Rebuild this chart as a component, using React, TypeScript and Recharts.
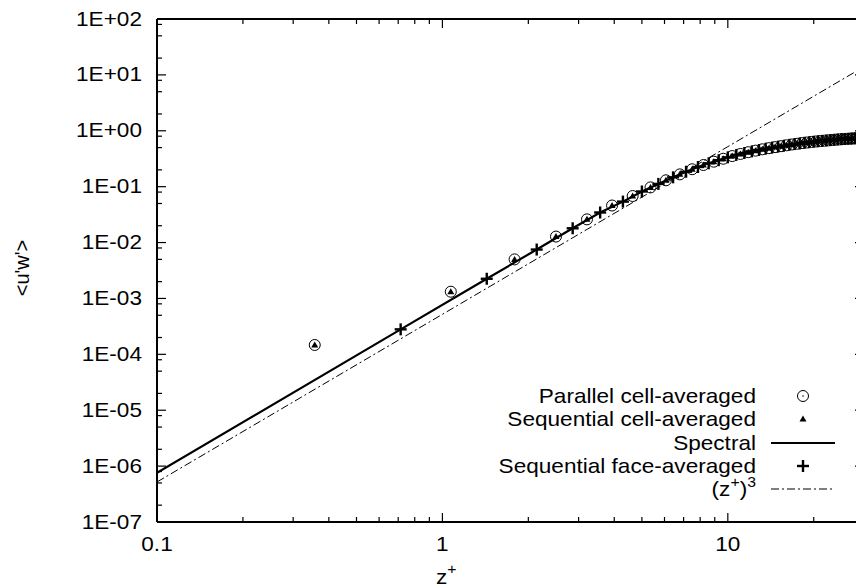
import { ComposedChart, Line, Scatter, XAxis, YAxis, ReferenceLine } from 'recharts';

const W = 890;
const H = 588;
const PLOT_TOP = 19;
const PLOT_RIGHT = 864;
const FONT = '"Liberation Sans", Arial, Helvetica, sans-serif';
const SX = 1.13; // the reference text is a little wider than plain Arial

// axis ticks
const xMajor = [0.1, 1, 10];
const xMinor = [0.2, 0.3, 0.4, 0.5, 0.6, 0.7, 0.8, 0.9, 2, 3, 4, 5, 6, 7, 8, 9, 20, 30];
const yMajor = [1e-7, 1e-6, 1e-5, 1e-4, 1e-3, 1e-2, 1e-1, 1, 10, 100];
const yMinor = [
  2e-7, 5e-7, 8e-7, 2e-6, 5e-6, 8e-6, 2e-5, 5e-5, 8e-5, 2e-4, 5e-4, 8e-4,
  2e-3, 5e-3, 8e-3, 2e-2, 5e-2, 8e-2, 0.2, 0.5, 0.8, 2, 5, 8, 20, 50, 80,
];

// Spectral solution
const spectralZ = [
  0.1, 0.714, 1.43, 2.14, 2.86, 3.57, 4.29, 5.0, 5.71, 6.43, 7.14, 7.86, 8.57, 9.29, 10.0,
  10.71, 11.43, 12.14, 12.86, 13.57, 14.29, 15.0, 15.71, 16.43, 17.14, 17.86, 18.57, 19.29,
  20.0, 20.71, 21.43, 22.14, 22.86, 23.57, 24.29, 25.0, 25.71, 26.43, 27.14, 27.86, 28.57,
  29.29, 30.0,
];
const spectralUW = [
  7.6e-7, 2.8e-4, 2.25e-3, 7.5e-3, 1.8e-2, 3.45e-2, 0.054, 0.082, 0.112, 0.147, 0.185, 0.225,
  0.262, 0.298, 0.335, 0.37, 0.4, 0.428, 0.453, 0.478, 0.5, 0.52, 0.54, 0.56, 0.578, 0.594,
  0.61, 0.624, 0.637, 0.649, 0.66, 0.67, 0.68, 0.69, 0.699, 0.707, 0.714, 0.72, 0.726, 0.732,
  0.737, 0.742, 0.746,
];

// Sequential face-averaged (+)
const faceZ = [
  0.714, 1.43, 2.14, 2.86, 3.57, 4.29, 5.0, 5.71, 6.43, 7.14, 7.86, 8.57, 9.29, 10.0, 10.71,
  11.43, 12.14, 12.86, 13.57, 14.29, 15.0, 15.71, 16.43, 17.14, 17.86, 18.57, 19.29, 20.0,
  20.71, 21.43, 22.14, 22.86, 23.57, 24.29, 25.0, 25.71, 26.43, 27.14, 27.86, 28.57, 29.29,
];
const faceUW = [
  2.8e-4, 2.25e-3, 7.5e-3, 1.8e-2, 3.45e-2, 0.054, 0.082, 0.112, 0.147, 0.185, 0.225, 0.262,
  0.298, 0.335, 0.37, 0.4, 0.428, 0.453, 0.478, 0.5, 0.52, 0.54, 0.56, 0.578, 0.594, 0.61,
  0.624, 0.637, 0.649, 0.66, 0.67, 0.68, 0.69, 0.699, 0.707, 0.714, 0.72, 0.726, 0.732, 0.737,
  0.742,
];

// Parallel / sequential cell-averaged (cell centres)
const cellZ = [
  0.357, 1.07, 1.79, 2.5, 3.21, 3.93, 4.64, 5.36, 6.07, 6.79, 7.5, 8.21, 8.93, 9.64, 10.36,
  11.07, 11.79, 12.5, 13.21, 13.93, 14.64, 15.36, 16.07, 16.79, 17.5, 18.21, 18.93, 19.64,
  20.36, 21.07, 21.79, 22.5, 23.21, 23.93, 24.64, 25.36, 26.07, 26.79, 27.5, 28.21, 28.93,
  29.64,
];
const parallelUW = [
  1.47e-4, 1.32e-3, 5.0e-3, 1.28e-2, 2.6e-2, 4.6e-2, 0.068, 0.097, 0.13, 0.166, 0.205, 0.244,
  0.28, 0.316, 0.353, 0.385, 0.414, 0.441, 0.466, 0.489, 0.51, 0.53, 0.55, 0.569, 0.586,
  0.602, 0.617, 0.631, 0.643, 0.655, 0.665, 0.675, 0.685, 0.694, 0.703, 0.71, 0.717, 0.723,
  0.729, 0.734, 0.739, 0.744,
];
const sequentialUW = parallelUW;

// (z+)^3 reference slope
const cubeZ = [0.1, 1, 10, 30];
const cubeUW = [5.2e-7, 5.2e-4, 0.52, 14];

const zip = (xs: number[], ys: number[]) => xs.map((x, i) => ({ x, y: ys[i] }));
const spectralData = zip(spectralZ, spectralUW);
const faceData = zip(faceZ, faceUW);
const parallelData = zip(cellZ, parallelUW);
const sequentialData = zip(cellZ, sequentialUW);
const cubeData = zip(cubeZ, cubeUW);

const isMajor = (v: number) => Math.abs(Math.log10(v) - Math.round(Math.log10(v))) < 1e-6;
const fmtE = (v: number) => {
  const e = Math.round(Math.log10(v));
  return `1E${e < 0 ? '-' : '+'}${String(Math.abs(e)).padStart(2, '0')}`;
};

// text stretched horizontally around its anchor point
function SText({ x, y, children, ...rest }: any) {
  return (
    <text transform={`translate(${x} ${y}) scale(${SX} 1)`} x={0} y={0}
      fontFamily={FONT} fontSize={20} fill="#000" {...rest}>{children}</text>
  );
}

function XTick({ x, y, payload }: any) {
  const v = payload.value;
  const len = isMajor(v) ? 9 : 5;
  return (
    <g>
      <line x1={x} y1={y} x2={x} y2={y - len} stroke="#000" strokeWidth={1.2} />
      <line x1={x} y1={PLOT_TOP} x2={x} y2={PLOT_TOP + len} stroke="#000" strokeWidth={1.2} />
      {isMajor(v) && (
        <SText x={x} y={y + 22} textAnchor="middle" dominantBaseline="central">{String(v)}</SText>
      )}
    </g>
  );
}

function YTick({ x, y, payload }: any) {
  const v = payload.value;
  const len = isMajor(v) ? 9 : 5;
  return (
    <g>
      <line x1={x} y1={y} x2={x + len} y2={y} stroke="#000" strokeWidth={1.2} />
      <line x1={PLOT_RIGHT} y1={y} x2={PLOT_RIGHT - len} y2={y} stroke="#000" strokeWidth={1.2} />
      {isMajor(v) && (
        <SText x={x - 15} y={y} textAnchor="end" dominantBaseline="central">{fmtE(v)}</SText>
      )}
    </g>
  );
}

const circleShape = (p: any) => (
  <g>
    <circle cx={p.cx} cy={p.cy} r={5.5} fill="none" stroke="#000" strokeWidth={1} />
    <circle cx={p.cx} cy={p.cy} r={0.8} fill="#000" />
  </g>
);
const triangleShape = (p: any) => (
  <polygon
    points={`${p.cx},${p.cy - 3.5} ${p.cx + 3.5},${p.cy + 2.5} ${p.cx - 3.5},${p.cy + 2.5}`}
    fill="#000"
  />
);
const plusShape = (p: any) => (
  <g stroke="#000" strokeWidth={2.4}>
    <line x1={p.cx - 6} y1={p.cy} x2={p.cx + 6} y2={p.cy} />
    <line x1={p.cx} y1={p.cy - 6} x2={p.cx} y2={p.cy + 6} />
  </g>
);

const legendRows = [
  'Parallel cell-averaged',
  'Sequential cell-averaged',
  'Spectral',
  'Sequential face-averaged',
];

function Overlay() {
  const tx = 756;
  const sx = 803;
  const ys = [396, 419, 443, 466, 489];
  return (
    <svg width={856} height={588} style={{ position: 'absolute', left: 0, top: 0, pointerEvents: 'none' }}>
      {legendRows.map((t, i) => (
        <SText key={t} x={tx} y={ys[i]} textAnchor="end" dominantBaseline="central">{t}</SText>
      ))}
      <SText x={tx} y={ys[4] + 7} textAnchor="end">
        (z<tspan dy={-9} fontSize={14}>+</tspan><tspan dy={9}>)</tspan>
        <tspan dy={-9} fontSize={14}>3</tspan>
      </SText>
      {circleShape({ cx: sx, cy: ys[0] })}
      {triangleShape({ cx: sx, cy: ys[1] })}
      <line x1={771} y1={ys[2]} x2={835} y2={ys[2]} stroke="#000" strokeWidth={2} />
      {plusShape({ cx: sx, cy: ys[3] })}
      <line x1={771} y1={ys[4]} x2={835} y2={ys[4]} stroke="#000" strokeWidth={1} strokeDasharray="8 3 2 3" />

      <text x={22} y={268} transform="rotate(-90 22 268)" textAnchor="middle" dominantBaseline="central"
        fontFamily={FONT} fontSize={20} fill="#000">{"<u'w'>"}</text>
      <SText x={436} y={584}>
        z<tspan dy={-10} fontSize={14}>+</tspan>
      </SText>
    </svg>
  );
}

export default function App() {
  return (
    <div style={{ position: 'absolute', left: 0, top: 0, width: 856, height: 588, overflow: 'hidden', background: '#fff' }}>
      <ComposedChart width={W} height={H} margin={{ top: PLOT_TOP, right: W - PLOT_RIGHT, bottom: 36, left: 97 }}>
        <XAxis
          dataKey="x" type="number" scale="log" domain={[0.1, 30]} allowDataOverflow
          ticks={[...xMajor, ...xMinor].sort((a, b) => a - b)} interval={0}
          tick={<XTick />} tickLine={false} tickSize={0} tickMargin={0} height={30}
          axisLine={{ stroke: '#000', strokeWidth: 2 }}
        />
        <YAxis
          dataKey="y" type="number" scale="log" domain={[1e-7, 100]} allowDataOverflow
          ticks={[...yMajor, ...yMinor].sort((a, b) => a - b)} interval={0}
          tick={<YTick />} tickLine={false} tickSize={0} tickMargin={0} width={60}
          axisLine={{ stroke: '#000', strokeWidth: 2 }}
        />
        <ReferenceLine y={100} stroke="#000" strokeWidth={2} />
        <ReferenceLine x={30} stroke="#000" strokeWidth={2} />
        <Line data={cubeData} dataKey="y" type="linear" stroke="#000" strokeWidth={1}
          strokeDasharray="8 3 2 3" dot={false} isAnimationActive={false} />
        <Line data={spectralData} dataKey="y" type="linear" stroke="#000" strokeWidth={2.2}
          dot={false} isAnimationActive={false} />
        <Scatter data={parallelData} dataKey="y" shape={circleShape} isAnimationActive={false} />
        <Scatter data={sequentialData} dataKey="y" shape={triangleShape} isAnimationActive={false} />
        <Scatter data={faceData} dataKey="y" shape={plusShape} isAnimationActive={false} />
      </ComposedChart>
      <Overlay />
    </div>
  );
}
